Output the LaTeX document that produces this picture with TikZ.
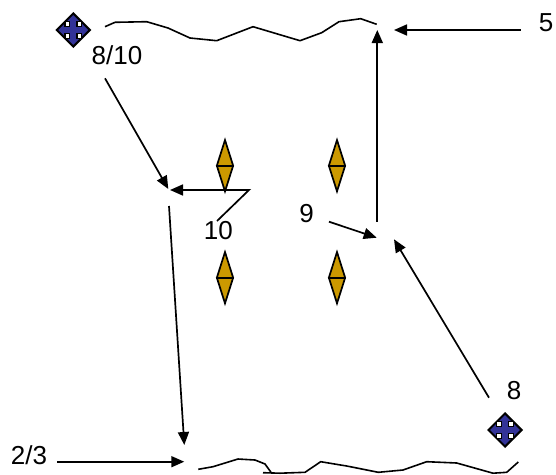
\documentclass[tikz,border=0pt]{standalone}
\usepackage{fontspec}
\setmainfont{Liberation Sans}
\usepackage{tikz}
\usetikzlibrary{arrows.meta, shapes.geometric}
\tikzset{>={Triangle[length=13pt,width=11pt]}}
\definecolor{gateorange}{HTML}{CC9900}
\definecolor{crossblue}{HTML}{333399}
\tikzset{
    lbl/.style={inner sep=0pt, font=\fontsize{26}{26}\selectfont},
    conn/.style={line width=1.7pt},
    wave/.style={line width=1.6pt, line join=round},
    gate/.style={diamond, draw, line width=1.7pt, fill=gateorange, inner sep=0pt, minimum width=17pt, minimum height=52pt},
    cross/.style={diamond, draw, line width=2pt, fill=crossblue, inner sep=0pt, minimum width=34pt, minimum height=34pt},
}
\begin{document}
\begin{tikzpicture}[x=1pt,y=-1pt]
    \useasboundingbox (0,0) rectangle (556,474);

    % top and bottom edges
    \draw [wave] (105,26.7) -- (115,22.3) -- (146.7,21.7) -- (168,28) -- (190,38) -- (216.7,40.7) -- (253,26.7) -- (300,40.7) -- (321.7,32.7) -- (339,21.7) -- (360.7,18.7) -- (376.7,24.3);
    \draw [wave] (198.3,469.3) -- (213,466.7) -- (238,459) -- (255,460) -- (265,464) -- (271,472.3);
    \draw [wave] (263,472.7) -- (280,473.2) -- (305,472.3) -- (320.7,461.7) -- (346.7,466) -- (378.3,472.3) -- (403,470) -- (426.7,461.7) -- (456.7,463) -- (493,473.2) -- (506.7,472.3) -- (518.3,462);

    % gates
    \node [gate] (gA) at (225,165.7) {};
    \node [gate] (gB) at (337,165.7) {};
    \node [gate] (gC) at (225,277.7) {};
    \node [gate] (gD) at (337,277.7) {};
    \foreach \g in {gA,gB,gC,gD}
        \draw [conn] (\g.west) -- (\g.east);

    % crosses
    \node [cross] (crTop) at (73.3,30) {};
    \node [cross] (crBot) at (505,430) {};
    \foreach \c in {crTop,crBot}
        \foreach \dx in {-6,6}
            \foreach \dy in {-6,6} {
                \fill ([shift={(\dx-3,\dy-3)}]\c) rectangle ([shift={(\dx+3,\dy+3)}]\c);
                \fill [white] ([shift={(\dx-1.6,\dy-1.6)}]\c) rectangle ([shift={(\dx+1.6,\dy+1.6)}]\c);
            }

    % labels
    \node [lbl] (lFive) at (546,23) {5};
    \node [lbl] (lEightTen) at (117,55) {8/10};
    \node [lbl] (lTen) at (218.3,231) {10};
    \node [lbl] (lNine) at (306.7,214) {9};
    \node [lbl] (lEight) at (514,390.7) {8};
    \node [lbl] (lTwoThree) at (29,455) {2/3};

    % free ends
    \coordinate (aS) at (105,78.3);
    \coordinate (aE) at (168.3,189);
    \coordinate (bS) at (217,221);
    \coordinate (bM) at (249,190);
    \coordinate (bE) at (170,190);
    \coordinate (cS) at (169,206);
    \coordinate (cE) at (184.3,445);
    \coordinate (dS) at (57,461.7);
    \coordinate (dE) at (184.3,461.7);
    \coordinate (eS) at (520.7,30);
    \coordinate (eE) at (394,30);
    \coordinate (fS) at (377.3,221.7);
    \coordinate (fE) at (377.3,30);
    \coordinate (gS) at (329,221.7);
    \coordinate (gE) at (376.7,237.7);
    \coordinate (hS) at (489,397.7);
    \coordinate (hE) at (394,239.3);

    \draw [conn,->] (aS) -- (aE);
    \draw [conn,->] (bS) -- (bM) -- (bE);
    \draw [conn,->] (cS) -- (cE);
    \draw [conn,->] (dS) -- (dE);
    \draw [conn,->] (eS) -- (eE);
    \draw [conn,->] (fS) -- (fE);
    \draw [conn,->] (gS) -- (gE);
    \draw [conn,->] (hS) -- (hE);
\end{tikzpicture}
\end{document}
